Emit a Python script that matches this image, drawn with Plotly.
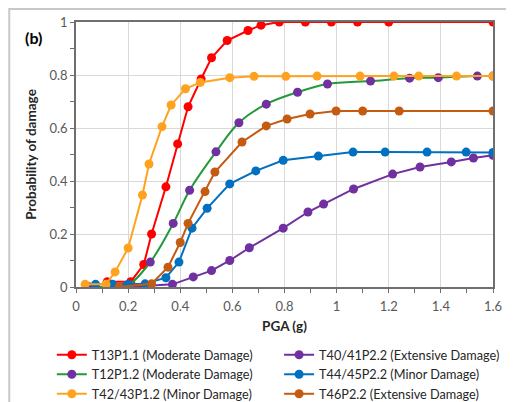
import plotly.graph_objects as go

# ---- data ----
t13_x = [0.12, 0.21, 0.26, 0.29, 0.345, 0.39, 0.43, 0.48, 0.52, 0.58, 0.66, 0.71, 0.78, 0.88, 0.98, 1.08, 1.2, 1.6]
t13_y = [0.02, 0.02, 0.085, 0.20, 0.378, 0.54, 0.68, 0.785, 0.865, 0.93, 0.968, 0.988, 1.0, 1.0, 1.0, 1.0, 1.0, 1.0]

t40_x = [0.05, 0.20, 0.37, 0.45, 0.52, 0.59, 0.665, 0.795, 0.89, 0.95, 1.065, 1.215, 1.32, 1.44, 1.525, 1.6]
t40_y = [0.0, 0.0, 0.01, 0.038, 0.062, 0.10, 0.148, 0.222, 0.283, 0.313, 0.37, 0.426, 0.453, 0.472, 0.487, 0.497]

t12_x = [0.05, 0.12, 0.195, 0.285, 0.373, 0.436, 0.537, 0.625, 0.73, 0.85, 0.965, 1.13, 1.28, 1.39, 1.54, 1.6]
t12_y = [0.0, 0.0, 0.005, 0.094, 0.24, 0.365, 0.51, 0.62, 0.69, 0.735, 0.766, 0.777, 0.788, 0.79, 0.796, 0.796]

t44_x = [0.075, 0.14, 0.2, 0.265, 0.345, 0.395, 0.445, 0.503, 0.59, 0.69, 0.795, 0.93, 1.063, 1.186, 1.347, 1.497, 1.6]
t44_y = [0.01, 0.01, 0.01, 0.012, 0.035, 0.094, 0.222, 0.297, 0.389, 0.438, 0.478, 0.494, 0.509, 0.509, 0.509, 0.509, 0.508]

t42_x = [0.035, 0.115, 0.15, 0.20, 0.255, 0.28, 0.33, 0.365, 0.42, 0.477, 0.59, 0.683, 0.805, 0.925, 1.09, 1.22, 1.315, 1.46, 1.6]
t42_y = [0.01, 0.01, 0.057, 0.147, 0.347, 0.464, 0.605, 0.687, 0.748, 0.772, 0.79, 0.795, 0.795, 0.796, 0.796, 0.796, 0.796, 0.796, 0.796]

t46_x = [0.165, 0.29, 0.353, 0.40, 0.43, 0.495, 0.533, 0.637, 0.73, 0.81, 0.898, 0.998, 1.10, 1.24, 1.6]
t46_y = [0.0, 0.012, 0.075, 0.168, 0.24, 0.36, 0.434, 0.547, 0.608, 0.634, 0.653, 0.664, 0.664, 0.664, 0.664]

names = ["T13P1.1 (Moderate Damage)", "T40/41P2.2 (Extensive Damage)",
         "T12P1.2 (Moderate Damage)", "T44/45P2.2 (Minor Damage)",
         "T42/43P1.2 (Minor Damage)", "T46P2.2 (Extensive Damage)"]

RED = "#FF0000"
PURPLE = "#7030A0"
GREEN = "#23993A"
BLUE = "#0070C0"
ORANGE = "#FFA21F"
BROWN = "#C55A11"

FONT = "Lato, Open Sans, Arial"

fig = go.Figure()

def add(x, y, name, lc, mc, legend, shape="linear"):
    fig.add_trace(go.Scatter(
        x=x, y=y, name=name, mode="lines+markers",
        line=dict(color=lc, width=2, shape=shape),
        marker=dict(color=mc, size=9),
        legend=legend,
    ))

add(t13_x, t13_y, names[0], RED, RED, "legend")
add(t40_x, t40_y, names[1], PURPLE, PURPLE, "legend2")
add(t12_x, t12_y, names[2], GREEN, PURPLE, "legend", "spline")
add(t44_x, t44_y, names[3], BLUE, BLUE, "legend2")
add(t42_x, t42_y, names[4], ORANGE, ORANGE, "legend")
add(t46_x, t46_y, names[5], BROWN, BROWN, "legend2")

axis_common = dict(
    showline=True, linecolor="#6f6f6f", linewidth=1.5, mirror=True,
    gridcolor="#d9d9d9", gridwidth=1, zeroline=False,
    ticks="outside", ticklen=4, tickcolor="#6f6f6f",
    tickfont=dict(family=FONT, size=13, color="#595959"),
    automargin=False,
)

fig.update_xaxes(range=[0, 1.6], dtick=0.2, tick0=0, ticklabelstandoff=3,
                 minor=dict(dtick=0.1, ticks="outside", ticklen=4, tickcolor="#6f6f6f", showgrid=False),
                 title=dict(text="<b>PGA (g)</b>", font=dict(family=FONT, size=13.5, color="#262626"), standoff=8),
                 **axis_common)
fig.update_yaxes(range=[0, 1], dtick=0.2, tick0=0,
                 minor=dict(dtick=0.1, ticks="outside", ticklen=4, tickcolor="#6f6f6f", showgrid=False),
                 title=dict(text="<b>Probability of damage</b>", font=dict(family=FONT, size=13.5, color="#262626"), standoff=10),
                 **axis_common)

fig.add_annotation(text="<b>(b)</b>", xref="paper", yref="paper", x=-0.127, y=0.943,
                   xanchor="left", yanchor="middle", showarrow=False,
                   font=dict(family=FONT, size=16, color="#000000"))

# outer frame of the original figure (left and top edges visible)
fig.add_shape(type="rect", xref="paper", yref="paper", x0=-0.160, y0=-0.6, x1=1.2, y1=1.049,
              line=dict(color="#c8c8c8", width=2), fillcolor="rgba(0,0,0,0)", layer="below")

leg_common = dict(orientation="v", yanchor="top", xanchor="left", tracegroupgap=0,
                  font=dict(family=FONT, size=12.7, color="#262626"),
                  itemwidth=30, bgcolor="rgba(0,0,0,0)")

# the page body adds an 8px offset, so the figure is 8px smaller than the window
fig.update_layout(
    width=506, height=394,
    margin=dict(l=68, r=21, t=14, b=115, autoexpand=False),
    paper_bgcolor="white", plot_bgcolor="white",
    showlegend=True,
    legend=dict(x=-0.058, y=-0.2, **leg_common),
    legend2=dict(x=0.487, y=-0.2, **leg_common),
)

fig.write_html("out.html")
